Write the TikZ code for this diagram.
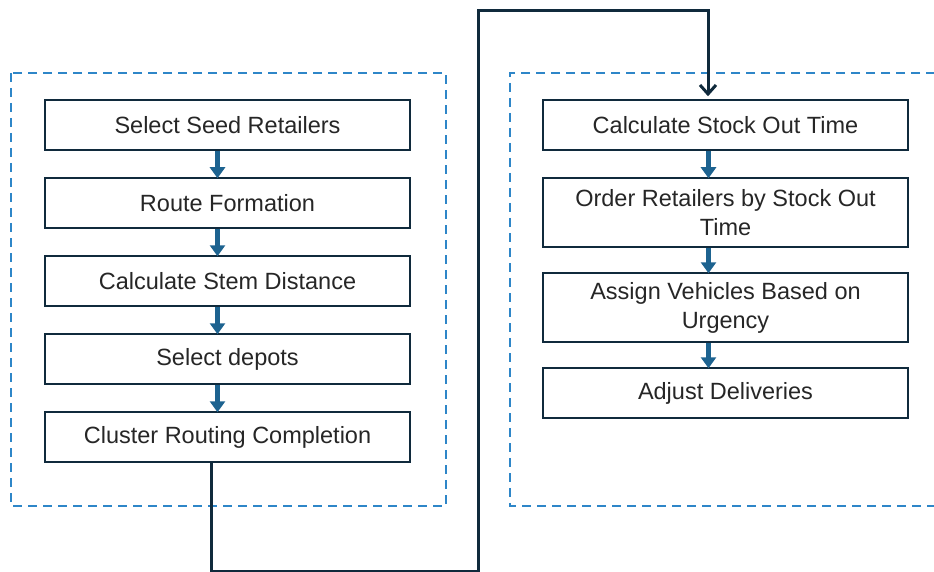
\documentclass[tikz,border=0pt]{standalone}
\usepackage{fontspec}
\setmainfont{Liberation Sans}
\usetikzlibrary{arrows.meta}
\definecolor{groupblue}{HTML}{2E86C8}
\definecolor{stepblue}{HTML}{1D6390}
\definecolor{navy}{HTML}{102A3C}
\begin{document}
\begin{tikzpicture}[x=1pt,y=-1pt]
\tikzset{stepbox/.style={draw=navy, line width=1.5pt, minimum width=365pt, minimum height=50pt, align=center, inner sep=0pt, font=\fontsize{23.5}{29}\selectfont, text=black!85}}
\tikzset{group/.style={draw=groupblue, line width=1.3pt, dash pattern=on 9pt off 6pt}}
\tikzset{flow/.style={draw=stepblue, line width=4.5pt, -{Triangle[width=15pt,length=11pt]}, shorten >=-1pt}}
\tikzset{link/.style={draw=navy, line width=3pt, -{Straight Barb[width=16pt,length=9pt,line width=3pt]}}}
\useasboundingbox (0,0) rectangle (934,572);
% dashed groups
\draw[group] (11,73) rectangle (446,506);
\draw[group] (950,73) -- (510,73) -- (510,506) -- (950,506);
% left column
\node[stepbox] (seed) at (227.5,125) {Select Seed Retailers};
\node[stepbox] (route) at (227.5,203) {Route Formation};
\node[stepbox] (stem) at (227.5,281) {Calculate Stem Distance};
\node[stepbox] (depot) at (227.5,359) {Select depots};
\node[stepbox] (done) at (227.5,437) {Cluster Routing Completion};
% right column
\node[stepbox] (stock) at (725.5,125) {Calculate Stock Out Time};
\node[stepbox, minimum height=69pt] (order) at (725.5,212.5) {Order Retailers by Stock Out\\Time};
\node[stepbox, minimum height=69pt] (assign) at (725.5,307.5) {Assign Vehicles Based on\\Urgency};
\node[stepbox] (adjust) at (725.5,393) {Adjust Deliveries};
% arrows
\foreach \a/\b in {seed/route, route/stem, stem/depot, depot/done}
  \draw[flow] ([xshift=-10pt]\a.south) -- ([xshift=-10pt]\b.north);
\foreach \a/\b in {stock/order, order/assign, assign/adjust}
  \draw[flow] ([xshift=-17pt]\a.south) -- ([xshift=-17pt]\b.north);
\draw[link] ([xshift=-16.5pt]done.south) -- ++(0,109) -| (478,11) -| ([xshift=-17.5pt,yshift=3pt]stock.north);
\end{tikzpicture}
\end{document}
